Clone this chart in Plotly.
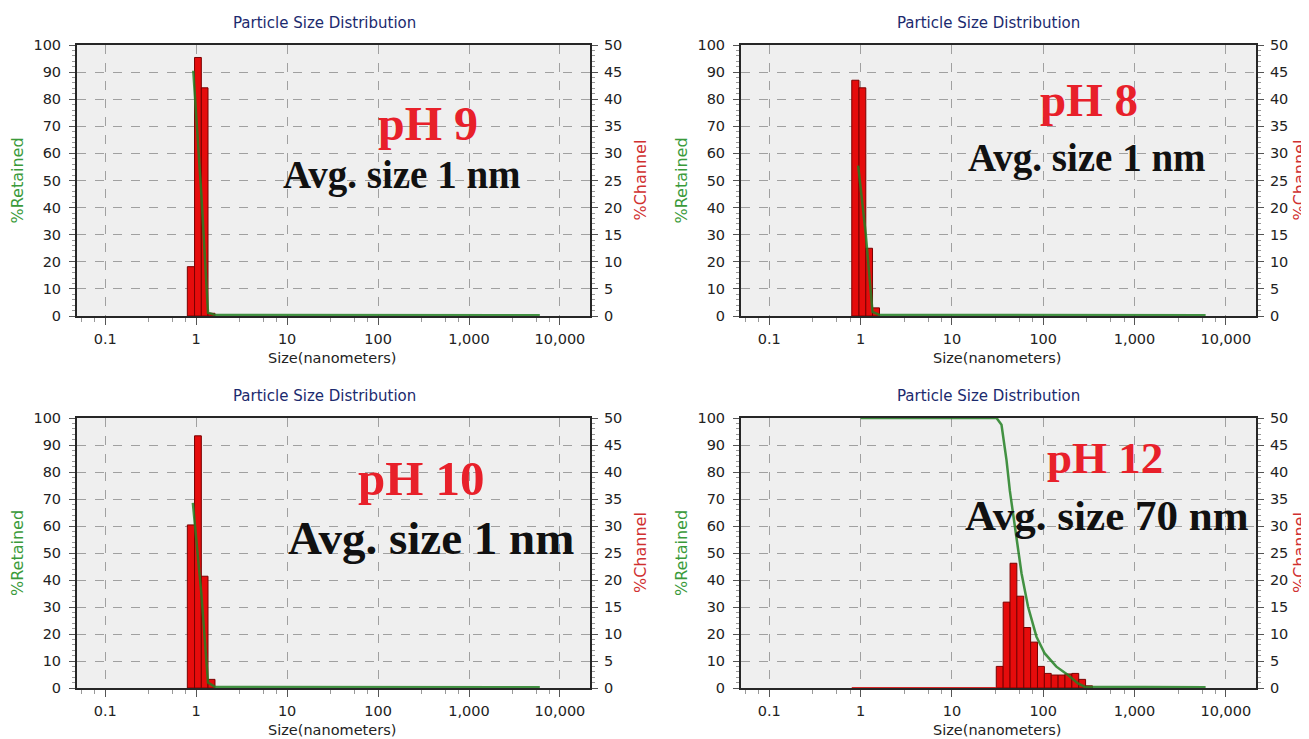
import plotly.graph_objects as go

W, H = 1309, 739
OFF = 8  # page body margin of the written html

# ---------------- data ----------------
# channel edges (nm)
edges_small = [0.80, 0.96, 1.14, 1.35, 1.61]
edges_large = [30.6, 36.4, 43.3, 51.4, 61.2, 72.7, 86.5, 102.9, 122.3, 145.5,
               173.0, 205.7, 244.7, 290.9, 346.0]

# %Channel values
ch_ph9 = [9.1, 47.7, 42.1, 0.5]
ch_ph8 = [43.5, 42.1, 12.5, 1.5]
ch_ph10 = [30.2, 46.7, 20.7, 1.6]
ch_ph12 = [4.0, 15.9, 23.1, 17.0, 11.2, 8.5, 4.0, 2.7, 2.4, 2.4, 2.6, 2.7, 1.6, 0.4]

# %Retained curves
ret_x_ph9 = [0.93, 1.14, 1.35, 1.61, 6000]
ret_y_ph9 = [90.5, 45, 1.2, 0.4, 0.3]
ret_x_ph8 = [0.94, 1.14, 1.35, 1.61, 6000]
ret_y_ph8 = [55.5, 30, 1.5, 0.4, 0.3]
ret_x_ph10 = [0.92, 1.14, 1.35, 1.61, 6000]
ret_y_ph10 = [68.6, 35, 2.0, 0.4, 0.3]
ret_x_ph12 = [1.0, 30.8, 34.9, 39.6, 43.1, 50.9, 57.8, 68.2, 84.3, 103.8, 139.3,
              186.6, 240, 284, 6000]
ret_y_ph12 = [100, 100, 97.5, 84.4, 73, 54.8, 42.5, 30.1, 19, 12.8, 7.9, 4.8,
              1.7, 0.5, 0.3]
zero_x_ph12 = [0.80, 30.6]
zero_y_ph12 = [0, 0]

x_tickvals = [0.1, 1, 10, 100, 1000, 10000]
x_ticktext = ["0.1", "1", "10", "100", "1,000", "10,000"]

ph_labels = ["pH 9", "pH 8", "pH 10", "pH 12"]
avg_labels = ["Avg. size 1 nm", "Avg. size 1 nm", "Avg. size 1 nm", "Avg. size 70 nm"]

# ---------------- layout geometry (px in the screenshot) ----------------
panels = [
    dict(box=(77, 590, 45, 316), edges=edges_small, ch=ch_ph9, rx=ret_x_ph9, ry=ret_y_ph9,
         title_x=324, ph=(428, 123, 48), avg=(402, 175, 39), chan_x=640),
    dict(box=(741, 1256, 45, 316), edges=edges_small, ch=ch_ph8, rx=ret_x_ph8, ry=ret_y_ph8,
         title_x=988, ph=(1089, 100, 47), avg=(1087, 158, 39), chan_x=1299),
    dict(box=(77, 590, 418, 688), edges=edges_small, ch=ch_ph10, rx=ret_x_ph10, ry=ret_y_ph10,
         title_x=324, ph=(421, 478, 49), avg=(431, 538, 47), chan_x=640),
    dict(box=(741, 1256, 418, 688), edges=edges_large, ch=ch_ph12, rx=ret_x_ph12, ry=ret_y_ph12,
         title_x=988, ph=(1105, 458, 45), avg=(1107, 515, 43), chan_x=1299),
]


def px(x):
    return (x - OFF) / W


def py(y):
    return 1 - (y - OFF) / H


FONT = "DejaVu Sans"
GRID = "#a0a0a0"
FRAME = "#262626"
GREEN = "rgba(35,128,35,0.85)"
BAR_FILL = "#e50c0c"
BAR_LINE = "#7a0000"

minor_x = [m * 10 ** d for d in range(-2, 5) for m in (3, 5.5, 7.7)]
minor_x = [v for v in minor_x if 0.05 < v < 21000]

fig = go.Figure()
layout = {}
annotations = []


def ann(text, x, y, size, color, family=FONT, angle=0):
    annotations.append(dict(text=text, x=px(x), y=py(y), xref="paper", yref="paper",
                            xanchor="center", yanchor="middle", textangle=angle,
                            showarrow=False, font=dict(family=family, size=size, color=color)))


for i, p in enumerate(panels, start=1):
    x0, x1, y0, y1 = p["box"]
    xid = "x" if i == 1 else f"x{i}"
    ybar = f"y{2 * i - 1}" if i > 1 else "y"
    yret = f"y{2 * i}"
    xkey = "xaxis" if i == 1 else f"xaxis{i}"
    ybkey = "yaxis" if i == 1 else f"yaxis{2 * i - 1}"
    yrkey = f"yaxis{2 * i}"

    lo = p["edges"][:-1]
    hi = p["edges"][1:]
    widths = [b - a for a, b in zip(lo, hi)]

    fig.add_trace(go.Bar(x=lo, y=p["ch"], width=widths, offset=0,
                         marker=dict(color=BAR_FILL, line=dict(color=BAR_LINE, width=1)),
                         xaxis=xid, yaxis=ybar, showlegend=False))
    if i == 4:
        fig.add_trace(go.Scatter(x=zero_x_ph12, y=zero_y_ph12, mode="lines",
                                 line=dict(color="#d42a2a", width=2), cliponaxis=False,
                                 xaxis=xid, yaxis=yret, showlegend=False, hoverinfo="skip"))
    fig.add_trace(go.Scatter(x=p["rx"], y=p["ry"], mode="lines",
                             line=dict(color=GREEN, width=2.5),
                             xaxis=xid, yaxis=yret, showlegend=False, cliponaxis=False))

    layout[xkey] = dict(
        type="log", range=[-1.31, 4.33], domain=[px(x0), px(x1)], anchor=ybar,
        automargin=False, layer="below traces",
        tickvals=x_tickvals, ticktext=x_ticktext, ticks="outside", ticklen=7,
        tickcolor="#555", tickfont=dict(family=FONT, size=14.5, color="#222"),
        ticklabelstandoff=2,
        showgrid=True, gridcolor=GRID, griddash="dash", gridwidth=1,
        showline=True, linecolor=FRAME, linewidth=2, mirror=True, zeroline=False,
        minor=dict(tickvals=minor_x, ticks="outside", ticklen=4, tickcolor="#999",
                   showgrid=False),
    )
    layout[ybkey] = dict(
        domain=[py(y1), py(y0)], anchor=xid, side="right", range=[0, 50],
        automargin=False,
        tickvals=list(range(0, 51, 5)), ticks="outside", ticklen=6, tickcolor="#555",
        tickfont=dict(family=FONT, size=14.5, color="#222"), ticklabelstandoff=3,
        showgrid=True, gridcolor=GRID, griddash="dash", gridwidth=1,
        showline=True, linecolor=FRAME, linewidth=2, zeroline=False,
        minor=dict(dtick=1, ticks="outside", ticklen=3, tickcolor="#999", showgrid=False),
    )
    layout[yrkey] = dict(
        overlaying=ybar, anchor=xid, side="left", range=[0, 100],
        automargin=False,
        tickvals=list(range(0, 101, 10)), ticks="outside", ticklen=6, tickcolor="#555",
        tickfont=dict(family=FONT, size=14.5, color="#222"), ticklabelstandoff=5,
        showgrid=False, showline=True, linecolor=FRAME, linewidth=2, zeroline=False,
        minor=dict(dtick=2, ticks="outside", ticklen=3, tickcolor="#999", showgrid=False),
    )

    yc = (y0 + y1) / 2
    ann("Particle Size Distribution", p["title_x"], y0 - 22, 15, "#1b2a6e")
    ann("Size(nanometers)", (x0 + x1) / 2 - 2, y1 + 42, 14.5, "#222")
    ann("%Retained", x0 - 60, yc, 16, "#3a9a3a", angle=-90)
    ann("%Channel", p["chan_x"], yc, 16, "#d03030", angle=-90)
    phx, phy, phs = p["ph"]
    ann("<b>" + ph_labels[i - 1] + "</b>", phx, phy, phs, "#e8202a", family="Liberation Serif")
    ax_, ay_, as_ = p["avg"]
    ann("<b>" + avg_labels[i - 1] + "</b>", ax_, ay_, as_, "#111111", family="Liberation Serif")

fig.update_layout(
    width=W, height=H, margin=dict(l=0, r=0, t=0, b=0, autoexpand=False),
    paper_bgcolor="white", plot_bgcolor="#efefef",
    showlegend=False, barmode="overlay",
    annotations=annotations,
    **layout,
)

fig.write_html("out.html")
